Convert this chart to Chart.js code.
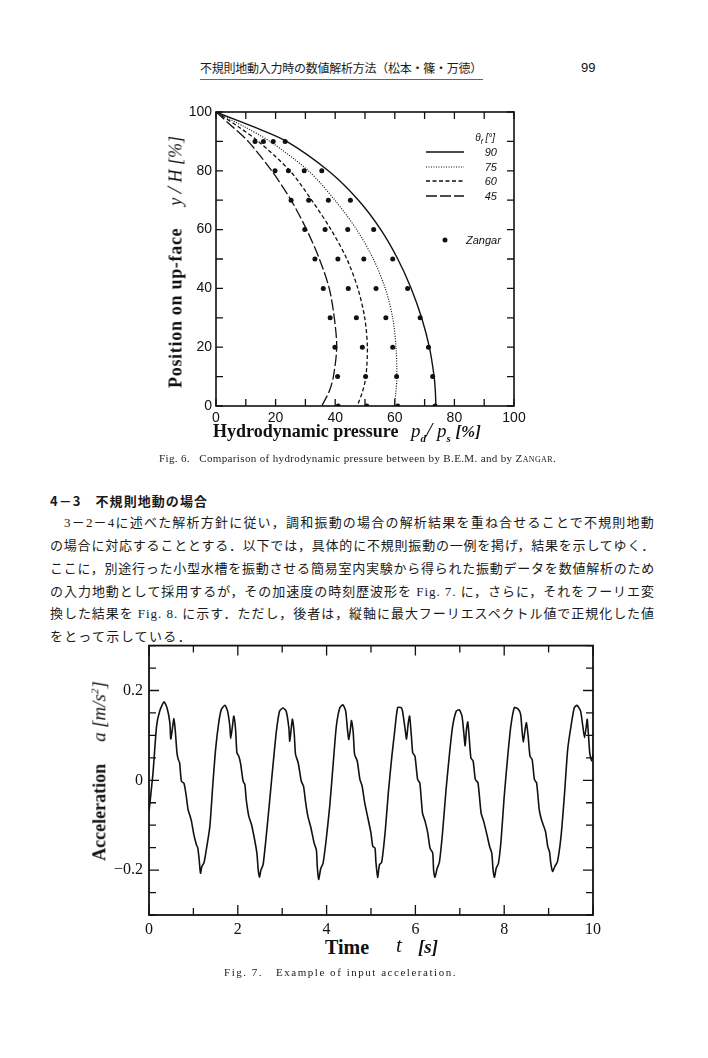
<!DOCTYPE html>
<html><head><meta charset="utf-8">
<script src="https://cdn.jsdelivr.net/npm/chart.js@4.4.1/dist/chart.umd.min.js"></script>
<style>
html,body{margin:0;padding:0;background:#fff;}
#page{position:relative;width:708px;height:1058px;overflow:hidden;background:#fff;color:#111;}
.t{position:absolute;white-space:nowrap;display:inline-block;}
.jp{font-family:"Liberation Serif","Noto Sans CJK JP";font-size:13px;line-height:16px;color:#1a1a1a;}
.cap{font-family:"Liberation Serif";font-size:11px;line-height:14px;color:#222;}
.ser{font-family:"Liberation Serif";color:#111;}
.sans{font-family:"Liberation Sans";color:#111;}
.rot{position:absolute;white-space:nowrap;transform:translate(-50%,-50%) rotate(-90deg);font-family:"Liberation Serif";color:#111;line-height:22px;}
canvas{position:absolute;}
</style></head>
<body><div id="page">

<div class="t jp fit" data-w="282" style="left:200px;top:60px;font-size:12px;font-family:'Noto Sans CJK JP';">不規則地動入力時の数値解析方法（松本・篠・万徳）</div>
<div style="position:absolute;left:200px;top:79px;width:283px;height:1px;background:#666;"></div>
<div class="t sans" style="left:581px;top:60px;font-size:13px;line-height:16px;">99</div>

<canvas id="c1" width="380" height="340" style="left:160px;top:95px;width:380px;height:340px;"></canvas>

<!-- Fig 6 axis titles -->
<div class="rot" style="left:175px;top:262px;font-size:18px;"><b style="letter-spacing:0.7px">Position on up-face</b><span style="display:inline-block;width:22px"></span><i>y</i>&nbsp;<span style="font-size:22px;font-style:italic">/</span>&nbsp;<i>H</i>&nbsp;<i>[%]</i></div>
<div class="t ser" style="left:213px;top:420px;font-size:18px;line-height:22px;font-weight:bold;">Hydrodynamic pressure</div>
<div class="t ser" style="left:411px;top:419px;font-size:19px;line-height:22px;font-style:italic;">p<sub style="font-size:11px;font-weight:bold">d</sub><span style="font-size:22px">/</span>&nbsp;p<sub style="font-size:11px;font-weight:bold">s</sub>&nbsp;<span style="font-size:17px;font-weight:bold">[%]</span></div>

<!-- Fig 6 legend -->
<div class="t sans" style="right:213px;top:131px;font-size:10px;line-height:14px;font-style:italic;">θ<sub style="font-size:7px">f</sub> [°]</div>
<svg style="position:absolute;left:420px;top:145px;" width="50" height="60">
  <line x1="6" y1="7" x2="44" y2="7" stroke="#111" stroke-width="1.4"/>
  <line x1="6" y1="22" x2="44" y2="22" stroke="#111" stroke-width="1.2" stroke-dasharray="1,1.5"/>
  <line x1="6" y1="36" x2="44" y2="36" stroke="#111" stroke-width="1.3" stroke-dasharray="4,2.5"/>
  <line x1="6" y1="51" x2="44" y2="51" stroke="#111" stroke-width="1.3" stroke-dasharray="11,3"/>
</svg>
<div class="t sans" style="right:211px;top:145px;font-size:11px;line-height:14px;font-style:italic;">90</div>
<div class="t sans" style="right:211px;top:160px;font-size:11px;line-height:14px;font-style:italic;">75</div>
<div class="t sans" style="right:211px;top:174px;font-size:11px;line-height:14px;font-style:italic;">60</div>
<div class="t sans" style="right:211px;top:189px;font-size:11px;line-height:14px;font-style:italic;">45</div>
<svg style="position:absolute;left:440px;top:235px;" width="10" height="10"><circle cx="5" cy="5" r="2.5" fill="#111"/></svg>
<div class="t sans" style="left:466px;top:233px;font-size:11px;line-height:14px;font-style:italic;">Zangar</div>

<div class="t cap fit" data-w="397" style="left:159px;top:451px;">Fig. 6.&nbsp;&nbsp; Comparison of hydrodynamic pressure between by B.E.M. and by <span style="font-variant:small-caps">Zangar</span>.</div>

<div class="t jp fit" data-w="158" style="left:50px;top:493px;font-family:'Noto Sans CJK JP';font-weight:bold;">4－3　不規則地動の場合</div>
<div class="t jp fit" data-w="591" style="left:64px;top:515px;">3－2－4に述べた解析方針に従い，調和振動の場合の解析結果を重ね合せることで不規則地動</div>
<div class="t jp fit" data-w="605" style="left:50px;top:538px;">の場合に対応することとする．以下では，具体的に不規則振動の一例を掲げ，結果を示してゆく．</div>
<div class="t jp fit" data-w="605" style="left:50px;top:561px;">ここに，別途行った小型水槽を振動させる簡易室内実験から得られた振動データを数値解析のため</div>
<div class="t jp fit" data-w="605" style="left:50px;top:584px;">の入力地動として採用するが，その加速度の時刻歴波形を Fig. 7. に，さらに，それをフーリエ変</div>
<div class="t jp fit" data-w="605" style="left:50px;top:606px;">換した結果を Fig. 8. に示す．ただし，後者は，縦軸に最大フーリエスペクトル値で正規化した値</div>
<div class="t jp fit" data-w="142" style="left:50px;top:629px;">をとって示している．</div>

<canvas id="c2" width="520" height="305" style="left:95px;top:630px;width:520px;height:305px;"></canvas>

<div class="rot" style="left:97px;top:771px;font-size:18px;"><b>Acceleration</b><span style="display:inline-block;width:22px"></span><i style="font-size:19px">a</i>&nbsp;<i style="font-size:19px">[m/s<sup style="font-size:11px">2</sup>]</i></div>
<div class="t ser" style="left:325px;top:935px;font-size:20px;line-height:24px;font-weight:bold;">Time</div>
<div class="t ser" style="left:396px;top:933px;font-size:21px;line-height:24px;font-style:italic;">t</div>
<div class="t ser" style="left:418px;top:935px;font-size:19px;line-height:24px;font-style:italic;font-weight:bold;">[s]</div>

<div class="t cap fit" data-w="233" style="left:224px;top:965px;">Fig. 7.&nbsp;&nbsp; Example of input acceleration.</div>

</div>
<script>
// ---------- Fig. 6 data ----------
const fig6Levels = [100, 95, 90, 80, 70, 60, 50, 40, 30, 20, 10, 5, 0];
const bem90 = [0, 12.5, 23.7, 37.7, 47.8, 55.3, 61.0, 65.5, 69.0, 71.6, 73.2, 73.6, 73.8];
const bem75 = [0, 9.5, 18.1, 31.0, 39.9, 47.2, 52.8, 56.8, 59.3, 60.4, 60.7, 60.4, 59.8];
const bem60 = [0, 7.5, 14.2, 24.8, 32.1, 38.6, 43.9, 47.6, 49.9, 50.8, 50.3, 49.2, 47.4];
const bem45 = [0, 5.5, 10.8, 18.7, 25.2, 30.4, 34.7, 38.0, 39.7, 40.5, 39.4, 38.0, 35.5];
const zangarLevels = [90, 80, 70, 60, 50, 40, 30, 20, 10, 0];
const zangar90 = [23.2, 35.5, 45.1, 52.9, 59.3, 64.3, 68.5, 71.3, 72.7, 73.5];
const zangar75 = [19.2, 29.6, 37.7, 44.2, 49.6, 53.7, 57.0, 59.3, 60.6, 61.0];
const zangar60 = [15.9, 24.3, 31.1, 36.6, 40.9, 44.4, 47.1, 49.1, 50.2, 50.6];
const zangar45 = [13.1, 19.8, 25.2, 29.8, 33.2, 36.0, 38.3, 39.9, 40.8, 41.0];
const fig6Ticks = [0, 10, 20, 30, 40, 50, 60, 70, 80, 90, 100];
const fig6Labels = [0, 20, 40, 60, 80, 100];

// ---------- Fig. 7 data ----------
const accelT = [0,0.09,0.17,0.24,0.34,0.41,0.47,0.49,0.53,0.56,0.59,0.63,0.66,0.69,0.73,0.79,0.84,0.88,0.95,1.01,1.07,1.10,1.13,1.16,1.19,1.24,1.29,1.37,1.44,1.50,1.57,1.63,1.71,1.77,1.82,1.84,1.88,1.91,1.95,1.98,2.02,2.06,2.12,2.16,2.19,2.25,2.31,2.38,2.43,2.46,2.49,2.52,2.57,2.64,2.72,2.79,2.87,2.94,3.02,3.09,3.15,3.17,3.21,3.23,3.27,3.30,3.36,3.43,3.48,3.53,3.58,3.64,3.72,3.77,3.79,3.82,3.87,3.92,3.99,4.07,4.15,4.22,4.30,4.37,4.43,4.47,4.50,4.54,4.56,4.60,4.63,4.69,4.75,4.80,4.86,4.93,5.00,5.04,5.09,5.11,5.15,5.19,5.24,5.32,5.39,5.47,5.53,5.60,5.68,5.71,5.77,5.80,5.84,5.87,5.91,5.94,5.99,6.05,6.10,6.16,6.22,6.28,6.33,6.39,6.41,6.44,6.49,6.54,6.61,6.69,6.77,6.84,6.92,6.99,7.05,7.09,7.12,7.15,7.18,7.21,7.25,7.30,7.35,7.41,7.48,7.54,7.62,7.67,7.72,7.75,7.78,7.82,7.87,7.93,8.00,8.08,8.15,8.23,8.31,8.37,8.40,8.43,8.47,8.50,8.54,8.58,8.63,8.68,8.73,8.79,8.84,8.93,8.98,9.02,9.05,9.09,9.14,9.20,9.28,9.36,9.43,9.51,9.58,9.64,9.72,9.77,9.81,9.85,9.87,9.90,9.93,9.97,10.0];
const accelA = [-0.07,0.016,0.12,0.154,0.175,0.16,0.128,0.092,0.117,0.137,0.113,0.061,0.046,0.039,-0.002,-0.007,-0.036,-0.065,-0.088,-0.121,-0.144,-0.151,-0.177,-0.207,-0.192,-0.183,-0.155,-0.103,-0.006,0.069,0.128,0.158,0.167,0.154,0.121,0.093,0.121,0.143,0.113,0.061,0.054,0.039,-0.002,-0.01,-0.043,-0.081,-0.099,-0.133,-0.162,-0.2,-0.216,-0.2,-0.188,-0.125,-0.043,0.031,0.11,0.154,0.161,0.154,0.117,0.087,0.121,0.136,0.106,0.058,0.039,-0.002,-0.013,-0.051,-0.081,-0.103,-0.14,-0.155,-0.192,-0.221,-0.196,-0.185,-0.133,-0.058,0.039,0.121,0.162,0.168,0.154,0.113,0.091,0.117,0.133,0.106,0.058,0.043,0.002,-0.013,-0.051,-0.084,-0.118,-0.147,-0.151,-0.181,-0.216,-0.188,-0.183,-0.114,-0.028,0.054,0.106,0.162,0.162,0.154,0.113,0.092,0.128,0.143,0.098,0.061,0.054,0.002,-0.006,-0.073,-0.092,-0.118,-0.151,-0.162,-0.2,-0.216,-0.196,-0.183,-0.118,-0.021,0.061,0.121,0.154,0.157,0.143,0.106,0.077,0.113,0.13,0.098,0.05,0.043,0.002,-0.006,-0.073,-0.092,-0.125,-0.147,-0.162,-0.2,-0.216,-0.196,-0.185,-0.133,-0.036,0.054,0.121,0.162,0.159,0.147,0.113,0.085,0.113,0.128,0.098,0.054,0.046,0.002,-0.006,-0.066,-0.088,-0.114,-0.147,-0.159,-0.185,-0.203,-0.192,-0.181,-0.125,-0.028,0.069,0.124,0.162,0.167,0.154,0.121,0.095,0.121,0.136,0.098,0.058,0.043,0.058];
const fig7TicksX = [0,1,2,3,4,5,6,7,8,9,10];
const fig7MajorX = [0,2,4,6,8,10];
const fig7TicksY = [-0.3,-0.25,-0.2,-0.15,-0.1,-0.05,0,0.05,0.1,0.15,0.2,0.25,0.3];
const fig7LabelsY = [-0.2, 0, 0.2];

// ---------- helpers ----------
const INK = '#111';
const near = (arr, v) => arr.some(m => Math.abs(m - v) < 1e-9);
function pairs(xs, ys) { return xs.map((x, i) => ({x: x, y: ys[i]})); }
function curve(xs, levels) { return xs.map((x, i) => ({x: x, y: levels[i]})); }

function framePlugin(cfg) {
  return {
    id: 'frame',
    afterDatasetsDraw(chart) {
      const {ctx, chartArea: a} = chart;
      const xs = chart.scales.x, ys = chart.scales.y;
      ctx.save();
      ctx.strokeStyle = INK;
      ctx.setLineDash([]);
      ctx.lineWidth = cfg.tickWidth;
      ctx.beginPath();
      cfg.xTicks.forEach(v => {
        const px = xs.getPixelForValue(v);
        const len = near(cfg.xMajor, v) ? cfg.majorLen : cfg.minorLen;
        ctx.moveTo(px, a.bottom); ctx.lineTo(px, a.bottom - len);
        ctx.moveTo(px, a.top); ctx.lineTo(px, a.top + len);
      });
      cfg.yTicks.forEach(v => {
        const py = ys.getPixelForValue(v);
        const len = near(cfg.yMajor, v) ? cfg.majorLen : cfg.minorLen;
        ctx.moveTo(a.left, py); ctx.lineTo(a.left + len, py);
        ctx.moveTo(a.right, py); ctx.lineTo(a.right - len, py);
      });
      ctx.stroke();
      ctx.lineWidth = cfg.frameWidth;
      ctx.strokeRect(a.left, a.top, a.right - a.left, a.bottom - a.top);
      ctx.restore();
    }
  };
}

function lineDs(xs, levels, dash, width) {
  return {data: curve(xs, levels), showLine: true, pointRadius: 0, borderColor: INK,
          borderWidth: width, borderDash: dash, tension: 0.3, fill: false};
}

// ---------- Fig. 6 chart ----------
const zLevels = zangarLevels;
new Chart(document.getElementById('c1'), {
  type: 'scatter',
  data: {datasets: [
    lineDs(bem90, fig6Levels, [], 1.4),
    lineDs(bem75, fig6Levels, [1, 1.5], 1.2),
    lineDs(bem60, fig6Levels, [4, 2.5], 1.3),
    lineDs(bem45, fig6Levels, [11, 3], 1.3),
    {data: pairs(zangar90.concat(zangar75, zangar60, zangar45), zLevels.concat(zLevels, zLevels, zLevels)),
     showLine: false, pointRadius: 2.5, pointBackgroundColor: INK, pointBorderWidth: 0, pointStyle: 'circle'}
  ]},
  options: {
    responsive: false, animation: false, events: [],
    layout: {padding: {top: 17, right: 26, left: 0, bottom: 0}},
    plugins: {legend: {display: false}, tooltip: {enabled: false}},
    scales: {
      x: {type: 'linear', min: 0, max: 100, afterFit: s => { s.height = 29; },
          grid: {display: false, drawTicks: false}, border: {display: false},
          ticks: {stepSize: 20, padding: 4, maxRotation: 0, autoSkip: false, color: INK,
                  font: {family: 'Liberation Sans', size: 14},
                  callback: v => near(fig6Labels, v) ? String(v) : ''}},
      y: {type: 'linear', min: 0, max: 100, afterFit: s => { s.width = 56; },
          grid: {display: false, drawTicks: false}, border: {display: false},
          ticks: {stepSize: 20, padding: 4, color: INK,
                  font: {family: 'Liberation Sans', size: 14},
                  callback: v => near(fig6Labels, v) ? String(v) : ''}}
    }
  },
  plugins: [framePlugin({xTicks: fig6Ticks, yTicks: fig6Ticks, xMajor: [], yMajor: [],
                         majorLen: 7, minorLen: 7, tickWidth: 1.3, frameWidth: 1.6})]
});

// ---------- Fig. 7 chart ----------
new Chart(document.getElementById('c2'), {
  type: 'scatter',
  data: {datasets: [{data: pairs(accelT, accelA), showLine: true, pointRadius: 0,
                     borderColor: INK, borderWidth: 1.6, tension: 0.2, fill: false}]},
  options: {
    responsive: false, animation: false, events: [],
    layout: {padding: {top: 15, right: 22, left: 0, bottom: 0}},
    plugins: {legend: {display: false}, tooltip: {enabled: false}},
    scales: {
      x: {type: 'linear', min: 0, max: 10, afterFit: s => { s.height = 20; },
          grid: {display: false, drawTicks: false}, border: {display: false},
          ticks: {stepSize: 2, padding: 5, maxRotation: 0, autoSkip: false, color: INK,
                  font: {family: 'Liberation Serif', size: 16},
                  callback: v => near(fig7MajorX, v) ? String(v) : ''}},
      y: {type: 'linear', min: -0.3, max: 0.3, afterFit: s => { s.width = 54; },
          grid: {display: false, drawTicks: false}, border: {display: false},
          ticks: {stepSize: 0.1, padding: 6, autoSkip: false, color: INK,
                  font: {family: 'Liberation Serif', size: 16},
                  callback: v => {
                    if (!near(fig7LabelsY, v)) return '';
                    const r = Math.round(v * 100) / 100;
                    return r < 0 ? '\u2212' + Math.abs(r) : String(r);
                  }}}
    }
  },
  plugins: [framePlugin({xTicks: fig7TicksX, yTicks: fig7TicksY, xMajor: fig7MajorX, yMajor: fig7LabelsY,
                         majorLen: 10, minorLen: 7, tickWidth: 1.3, frameWidth: 1.8})]
});

// ---------- fit text widths ----------
function fitAll() {
  document.querySelectorAll('.fit').forEach(el => {
    const target = +el.dataset.w;
    el.style.letterSpacing = '0px';
    const nat = el.getBoundingClientRect().width;
    const n = Array.from(el.textContent).length;
    el.style.letterSpacing = ((target - nat) / n) + 'px';
  });
}
fitAll();
if (document.fonts && document.fonts.ready) document.fonts.ready.then(fitAll);
</script>
</body></html>
